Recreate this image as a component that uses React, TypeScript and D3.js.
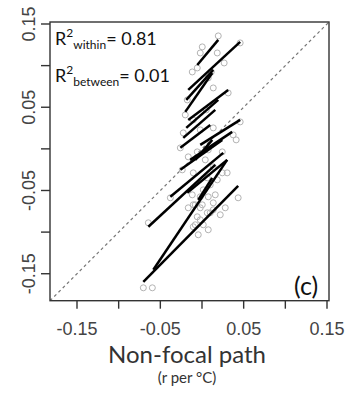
import * as d3 from "d3";

// per-population fitted lines: [x1, y1, x2, y2]  (r per °C)
const segments: [number, number, number, number][] = [
  [-0.0057, 0.1008, 0.0195, 0.1309],
  [-0.0165, 0.0708, 0.0458, 0.1285],
  [-0.0189, 0.0588, 0.0135, 0.0948],
  [-0.0201, 0.0444, 0.0123, 0.0912],
  [-0.0165, 0.0348, 0.0314, 0.0708],
  [-0.0189, 0.0252, 0.0195, 0.0588],
  [-0.0225, 0.0132, 0.0159, 0.0468],
  [-0.026, 0.0012, 0.0099, 0.0288],
  [-0.0021, 0.0048, 0.0458, 0.0348],
  [-0.026, -0.0252, 0.0243, 0.0108],
  [-0.0141, -0.0132, 0.0362, 0.0204],
  [-0.038, -0.0576, 0.0255, -0.0048],
  [-0.0177, -0.0528, 0.0302, -0.0132],
  [-0.0644, -0.0936, 0.0159, -0.0192],
  [-0.0584, -0.1453, 0.0302, -0.0132],
  [-0.0704, -0.1597, 0.0434, -0.0444],
  [-0.0081, -0.0132, 0.0123, 0.0108],
  [-0.0045, -0.0612, 0.0123, -0.0348],
];

const pointsX = [
  0.0195, 0.0003, -0.0021, 0.0183, 0.0266, 0.0458, -0.0117, -0.0057, 0.0111, 0.0075,
  -0.0177, 0.0135, 0.0314, -0.0201, -0.0105, 0.0051, -0.0021, 0.0135, 0.0458, -0.0225,
  0.0374, -0.026, -0.0165, -0.0057, 0.0075, 0.0243, 0.041, -0.0237, -0.0105, 0.0135,
  0.0302, 0.0243, 0.0183, -0.038, -0.0117, -0.0021, 0.0075, -0.0165, -0.0081, -0.0021,
  0.0135, 0.0434, -0.0644, -0.0105, -0.0021, 0.0063, 0.0015, -0.0057, 0.0135, -0.0704,
  -0.0596, -0.0105, 0.0003, -0.0081, 0.0099, 0.0039, 0.0099, 0.0015, 0.0063, 0.0159,
  0.0219, 0.0279, -0.0045, 0.0075,
];
const pointsY = [
  0.1357, 0.1225, 0.1152, 0.1152, 0.1032, 0.1273, 0.0924, 0.0972, 0.0924, 0.0852,
  0.0588, 0.0732, 0.0672, 0.0408, 0.0348, 0.0468, 0.0228, 0.0252, 0.0324, 0.0192,
  0.0168, 0.0012, -0.0096, -0.0036, -0.0012, -0.0036, 0.0108, -0.0252, -0.0288, -0.0216,
  -0.0288, -0.0288, -0.0372, -0.0588, -0.0552, -0.0576, -0.0576, -0.0708, -0.0672, -0.0708,
  -0.0648, -0.0588, -0.0888, -0.0936, -0.0852, -0.0768, -0.0912, -0.0816, -0.0732, -0.1669,
  -0.1669, -0.0672, -0.0672, -0.0912, -0.0768, -0.0132, -0.0432, -0.0492, -0.0348, -0.0552,
  -0.0792, -0.0708, -0.1032, -0.0972,
];

const xTicks = [-0.15, -0.1, -0.05, 0, 0.05, 0.1, 0.15];
const yTicks = [-0.15, -0.1, -0.05, 0, 0.05, 0.1, 0.15];
const labelled = ["-0.15", "-0.05", "0.05", "0.15"];
const fmt = (v: number) => (v < 0 ? "-" : "") + Math.abs(v).toFixed(2);

const W = 353;
const H = 396;
const box = { left: 50, right: 329, top: 22, bottom: 300.7 };
const domain: [number, number] = [-0.1824, 0.1524];

export default function App() {
  const x = d3.scaleLinear().domain(domain).range([box.left, box.right]);
  const y = d3.scaleLinear().domain(domain).range([box.bottom, box.top]);
  const tickFont = "'Liberation Sans', Arial, sans-serif";
  const textFont = "Lato, 'Open Sans', sans-serif";

  return (
    <svg
      width={W}
      height={H}
      style={{ position: "absolute", left: 0, top: 0, background: "#fff" }}
    >
      <defs>
        <clipPath id="plot">
          <rect
            x={box.left}
            y={box.top}
            width={box.right - box.left}
            height={box.bottom - box.top}
          />
        </clipPath>
      </defs>

      <g clipPath="url(#plot)">
        {/* 1:1 line */}
        <line
          x1={x(domain[0])}
          y1={y(domain[0])}
          x2={x(domain[1])}
          y2={y(domain[1])}
          stroke="#777"
          strokeWidth={1.2}
          strokeDasharray="3,3"
        />
        {pointsX.map((px, i) => (
          <circle
            key={i}
            cx={x(px)}
            cy={y(pointsY[i])}
            r={3}
            fill="none"
            stroke="#b3b3b3"
            strokeWidth={1}
          />
        ))}
        {segments.map((s, i) => (
          <line
            key={i}
            x1={x(s[0])}
            y1={y(s[1])}
            x2={x(s[2])}
            y2={y(s[3])}
            stroke="#000"
            strokeWidth={2.5}
          />
        ))}
      </g>

      <rect
        x={box.left}
        y={box.top}
        width={box.right - box.left}
        height={box.bottom - box.top}
        fill="none"
        stroke="#333"
        strokeWidth={1.4}
      />

      {/* x axis */}
      {xTicks.map((t) => (
        <g key={t} transform={`translate(${x(t)},${box.bottom})`}>
          <line y2={8} stroke="#333" strokeWidth={1.4} />
          {labelled.includes(fmt(t)) && (
            <text
              y={34}
              textAnchor="middle"
              fontFamily={tickFont}
              fontSize={18}
              fill="#444"
            >
              {fmt(t)}
            </text>
          )}
        </g>
      ))}

      {/* y axis */}
      {yTicks.map((t) => (
        <g key={t} transform={`translate(${box.left},${y(t)})`}>
          <line x2={-9} stroke="#333" strokeWidth={1.4} />
          {labelled.includes(fmt(t)) && (
            <text
              transform="translate(-15,0) rotate(-90)"
              textAnchor="middle"
              fontFamily={tickFont}
              fontSize={18}
              fill="#444"
            >
              {fmt(t)}
            </text>
          )}
        </g>
      ))}

      {/* annotations */}
      <text x={55} y={45} fontFamily={textFont} fontSize={18} fill="#111">
        R
        <tspan fontSize={12} dy={-8}>2</tspan>
        <tspan fontSize={12} dy={12}>within</tspan>
        <tspan dy={-4}>= 0.81</tspan>
      </text>
      <text x={55} y={82} fontFamily={textFont} fontSize={18} fill="#111">
        R
        <tspan fontSize={12} dy={-8}>2</tspan>
        <tspan fontSize={12} dy={12}>between</tspan>
        <tspan dy={-4}>= 0.01</tspan>
      </text>
      <text x={294} y={295} fontFamily={textFont} fontSize={25} fill="#111">
        (c)
      </text>

      <text
        x={187}
        y={363}
        textAnchor="middle"
        fontFamily={textFont}
        fontSize={24}
        fill="#333"
      >
        Non-focal path
      </text>
      <text
        x={187}
        y={383}
        textAnchor="middle"
        fontFamily={textFont}
        fontSize={15}
        fill="#333"
      >
        (r per °C)
      </text>
    </svg>
  );
}
